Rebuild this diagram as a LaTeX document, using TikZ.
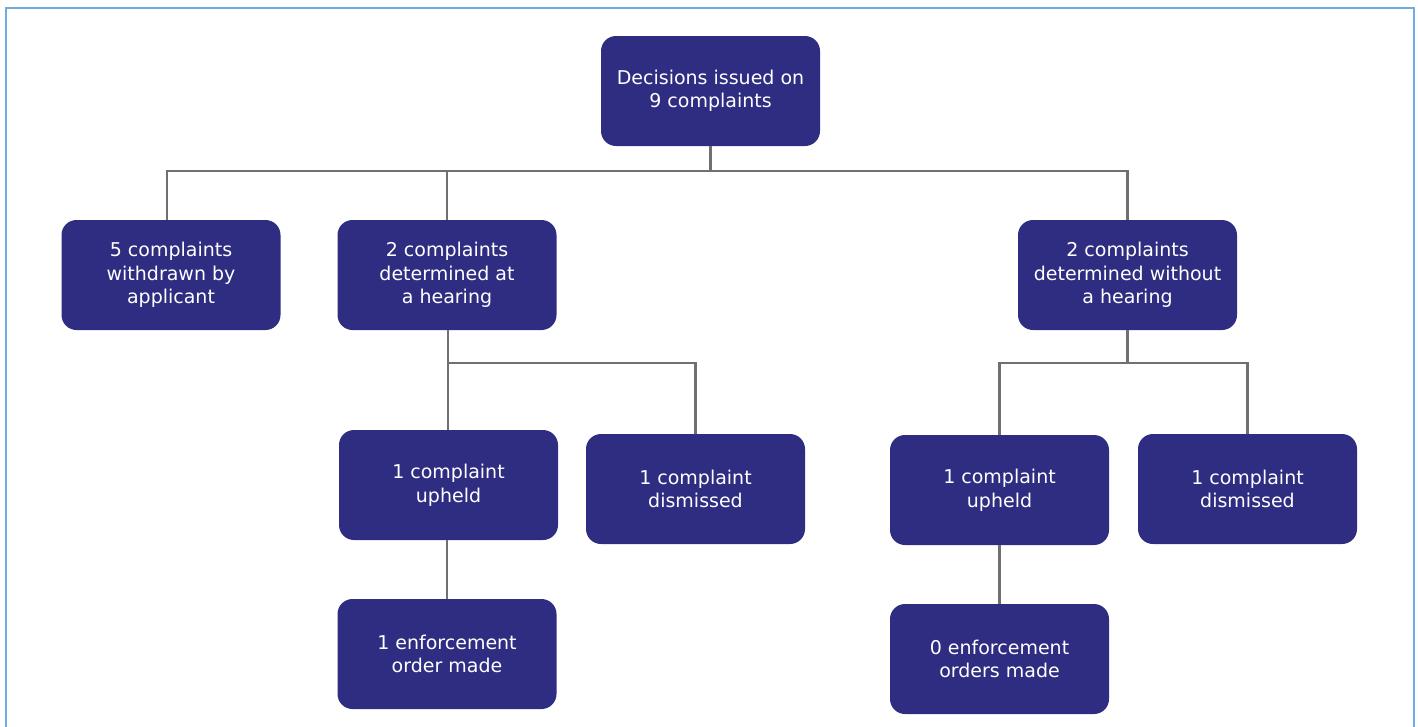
\documentclass[tikz,border=0pt]{standalone}
\usepackage{fontspec}
\setmainfont{DejaVu Sans}
\definecolor{boxblue}{RGB}{46,45,130}
\definecolor{linegray}{RGB}{112,112,112}
\definecolor{frameblue}{RGB}{112,172,222}
\begin{document}
\begin{tikzpicture}[x=1pt,y=-1pt,
  box/.style={draw=none,fill=boxblue,rounded corners=15pt,minimum width=219pt,minimum height=110pt,
    text=white,align=center,font=\fontsize{19}{23.5}\selectfont,inner sep=0pt},
  conn/.style={draw=linegray,line width=2.4pt}]
\useasboundingbox (0,0) rectangle (1418,726);
\draw[frameblue,line width=2.5pt] (6,727) -- (6,8) -- (1414,8) -- (1414,727);

\node[box] (top) at (710.5,91) {Decisions issued on\\9 complaints};
\node[box] (wd) at (171,275) {5 complaints\\withdrawn by\\applicant};
\node[box] (hear) at (447,275) {2 complaints\\determined at\\a hearing};
\node[box] (nohear) at (1127.5,275) {2 complaints\\determined without\\a hearing};
\node[box] (up1) at (448.5,485) {1 complaint\\upheld};
\node[box] (dis1) at (695.5,489) {1 complaint\\dismissed};
\node[box] (up2) at (999.5,490) {1 complaint\\upheld};
\node[box] (dis2) at (1247.5,489) {1 complaint\\dismissed};
\node[box] (enf1) at (447,654) {1 enforcement\\order made};
\node[box] (enf2) at (999.5,659) {0 enforcement\\orders made};

\coordinate (j0) at (710.5,171);
\coordinate (j1) at (448,363);
\coordinate (j2) at (1127.5,363);

\draw[conn] (top.south) -- (j0);
\draw[conn] (wd.north -| 167,0) |- (j0) -| (nohear.north);
\draw[conn] (j0 -| hear.north) -- (hear.north);
\draw[conn] (hear.south -| j1) -- (j1);
\draw[conn] (up1.north -| j1) |- (j1) -| (dis1.north);
\draw[conn] (nohear.south) -- (j2);
\draw[conn] (up2.north) |- (j2) -| (dis2.north);
\draw[conn] (up1.south -| 447,0) -- (enf1.north);
\draw[conn] (up2.south) -- (enf2.north);
\end{tikzpicture}
\end{document}
